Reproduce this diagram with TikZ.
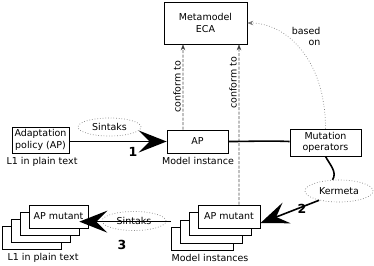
\documentclass[tikz,border=0pt]{standalone}
\usepackage{fontspec}
\setmainfont{DejaVu Sans}
\usetikzlibrary{shapes.geometric,arrows.meta}
\begin{document}
\begin{tikzpicture}[x=1bp,y=-1bp,
  txt/.style={font=\fontsize{9.5bp}{11.5bp}\selectfont},
  box/.style={draw, fill=white, line width=0.7bp, txt, align=center, inner sep=0pt},
  oval/.style={ellipse, draw=gray, dotted, line width=0.7bp, fill=white, txt, inner sep=0pt},
  num/.style={font=\fontsize{12.5bp}{12.5bp}\selectfont\bfseries},
  conf/.style={draw=black!70, dash pattern=on 3bp off 1.5bp, line width=0.6bp, -{Stealth[length=6bp,width=4.5bp,fill=black]}},
  based/.style={draw=gray, dotted, line width=0.7bp, -{Stealth[length=6bp,width=4.5bp,fill=black]}},
  bigarrow/.style={line width=1.6bp, -{Stealth[length=28bp,width=22bp,inset=11bp]}},
  thickline/.style={line width=1.6bp}]
\useasboundingbox (0,0) rectangle (374,266);

% main boxes
\node[box, minimum width=83bp, minimum height=42bp] (meta) at (205.5,23) {Metamodel\\ECA};
\node[box, minimum width=57bp, minimum height=26bp] (ad) at (40.5,140) {Adaptation\\policy (AP)};
\node[box, minimum width=61bp, minimum height=23bp] (ap) at (197.5,141.5) {AP};
\node[box, minimum width=71bp, minimum height=27bp] (mut) at (325.5,142.5) {Mutation\\operators};

% middle stack (model instances)
\node[box, minimum width=62bp, minimum height=23bp] (mD) at (202,239) {};
\node[box, minimum width=62bp, minimum height=23bp] (mC) at (211,231.5) {};
\node[box, minimum width=62bp, minimum height=23bp] (mB) at (220,224) {};
\node[box, minimum width=62bp, minimum height=23bp] (apm) at (229,216.5) {AP mutant};

% left stack (plain text)
\node[box, minimum width=59bp, minimum height=23bp] (lD) at (31.5,237.5) {};
\node[box, minimum width=59bp, minimum height=23bp] (lC) at (40.5,230.5) {};
\node[box, minimum width=59bp, minimum height=23bp] (lB) at (49.5,223.5) {};
\node[box, minimum width=59bp, minimum height=23bp] (lpm) at (58.5,216.5) {AP mutant};

% ovals
\node[oval, minimum width=63bp, minimum height=18bp] (s1) at (109.5,127) {Sintaks};
\node[oval, minimum width=64bp, minimum height=19bp] (s2) at (134,221) {Sintaks};
\node[oval, minimum width=68bp, minimum height=22bp] (kerm) at (339,191) {Kermeta};

% captions
\node[txt] (c1) at (42,162) {L1 in plain text};
\node[txt] (c2) at (198,161) {Model instance};
\node[txt] (c3) at (43,258) {L1 in plain text};
\node[txt] (c4) at (210,258) {Model instances};

% numbers
\node[num] (n1) at (133,152) {1};
\node[num] (n2) at (302,209) {2};
\node[num] (n3) at (122,245) {3};

% conform to
\draw[conf] ([xshift=-14.5bp]ap.north) -- node[txt, rotate=90, above, inner sep=2pt] (cf1) {conform to} ([xshift=-22.5bp]meta.south);
\draw[conf] ([xshift=10bp]apm.north) -- node[txt, rotate=90, above, inner sep=2pt, pos=0.76] (cf2) {conform to} ([xshift=33.5bp]meta.south);

% based on
\draw[based] (mut.north) .. controls +(0,-70) and +(38,0) .. (meta.east);
\node[txt, align=right, anchor=east] (bo) at (324,36.5) {based\\on};

% arrow 1
\draw[bigarrow] (ad.east |- ap.west) -- (ap.west);
% AP to mutation operators
\draw[thickline] (ap.east) .. controls +(25,0) and +(-25,-1) .. ([yshift=1bp]mut.west);
% mutation operators to Kermeta to AP mutant
\draw[thickline] (mut.south) .. controls +(4,8) and +(5,-8) .. (kerm.120);
\draw[bigarrow] (kerm.205) -- (apm.-12);
% arrow 3
\coordinate (s3) at ([yshift=5.5bp]mD.north west);
\draw[bigarrow] (s3) -- (s3 -| lB.east);
\end{tikzpicture}
\end{document}
